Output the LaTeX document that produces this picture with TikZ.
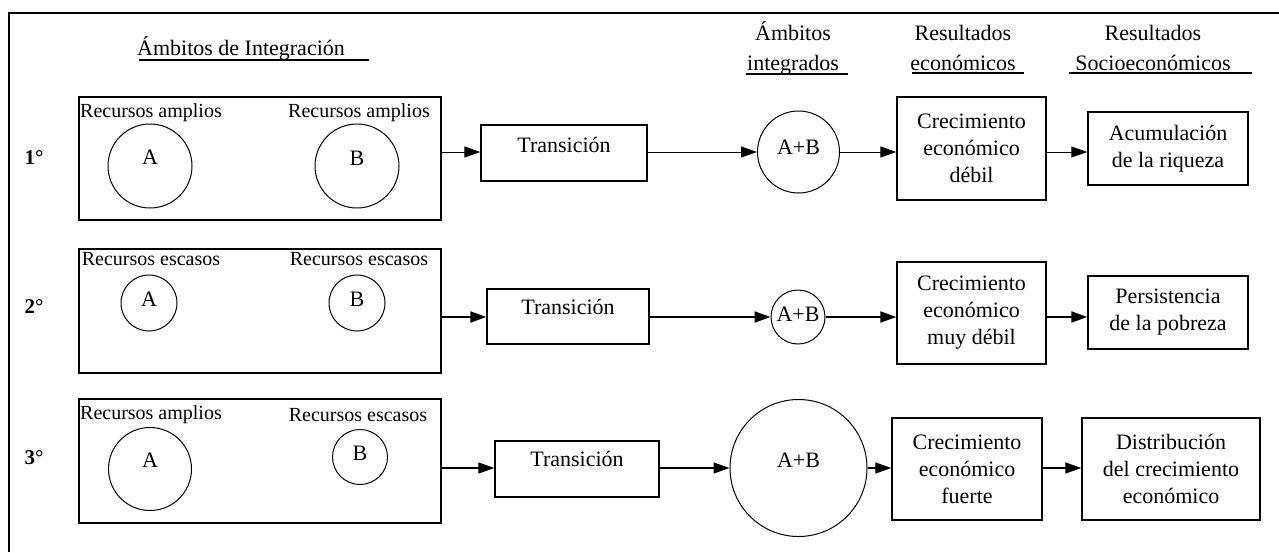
\documentclass[tikz,border=0pt]{standalone}
\usepackage{fontspec}
\setmainfont{Liberation Serif}
\usepackage{tikz}
\usetikzlibrary{arrows.meta}
\tikzset{
  frame/.style={draw=black, line width=1.6pt},
  box/.style={draw=black, line width=1.3pt, inner sep=0pt, align=center,
    font=\fontsize{22}{27}\selectfont},
  ring/.style={draw=black, circle, line width=1pt, inner sep=0pt},
  lbl/.style={inner sep=0pt, align=center, font=\fontsize{22}{27}\selectfont},
  res/.style={inner sep=0pt, font=\fontsize{20}{24}\selectfont},
  head/.style={inner sep=0pt, align=center, font=\fontsize{22}{30}\selectfont},
  num/.style={inner sep=0pt, font=\fontsize{21}{24}\selectfont\bfseries},
  uline/.style={draw=black, line width=1.2pt},
  arr/.style={draw=black, line width=1pt, -{Triangle[length=16pt,width=11pt]}},
  harr/.style={arr, line width=2pt}
}
\begin{document}
\begin{tikzpicture}[x=1pt, y=-1pt]
  \useasboundingbox (0,0) rectangle (1279,552);
  % open frame round the whole chart
  \draw[frame] (9,552) -- (9,13) -- (1279,13);

  % column headings
  \node[head] (hamb) at (241,48) {Ámbitos de Integración};
  \node[head] (hint) at (793,48) {Ámbitos\\integrados};
  \node[head] (heco) at (963,48) {Resultados\\económicos};
  \node[head] (hsoc) at (1153,48) {Resultados\\Socioeconómicos};
  \draw[uline] (139,60) -- (369,60);
  \draw[uline] (746,74) -- (848,74);
  \draw[uline] (912,73) -- (1024,73);
  \draw[uline] (1069,73) -- (1252,73);

  % 1st case
  \node[num] (n1) at (34,158) {1°};
  \node[box, minimum width=362pt, minimum height=123pt] (g1) at (260,158.5) {};
  \node[res] (ra1) at (151,113) {Recursos amplios};
  \node[res] (rb1) at (359,113) {Recursos amplios};
  \node[ring, minimum size=84pt, label={[lbl,yshift=8.5pt]center:A}] (a1) at (150,166) {};
  \node[ring, minimum size=84pt, label={[lbl,yshift=7.5pt]center:B}] (b1) at (357,166) {};
  \node[box, minimum width=166pt, minimum height=56pt,
    label={[lbl,yshift=8pt]center:Transición}] (t1) at (564,153) {};
  \node[ring, minimum size=82pt, label={[lbl,yshift=5pt]center:A+B}] (s1) at (798.5,152) {};
  \node[box, minimum width=149pt, minimum height=103pt] (e1) at (971.5,148.5)
    {Crecimiento\\económico\\débil};
  \node[box, minimum width=160pt, minimum height=73pt] (r1) at (1168,148.5)
    {Acumulación\\de la riqueza};
  \draw[arr] (g1.east |- s1) -- (t1.west |- s1);
  \draw[arr] (t1.east |- s1) -- (s1.west);
  \draw[arr] (s1.east) -- (s1.east -| e1.west);
  \draw[arr] (e1.east |- s1) -- (r1.west |- s1);

  % 2nd case
  \node[num] (n2) at (34,307) {2°};
  \node[box, minimum width=362pt, minimum height=124pt] (g2) at (260,311) {};
  \node[res] (ra2) at (151,259) {Recursos escasos};
  \node[res] (rb2) at (359,259) {Recursos escasos};
  \node[ring, minimum size=56pt, label={[lbl,yshift=4pt]center:A}] (a2) at (149,303) {};
  \node[ring, minimum size=56pt, label={[lbl,yshift=4pt]center:B}] (b2) at (357,303) {};
  \node[box, minimum width=162pt, minimum height=55pt,
    label={[lbl,yshift=9.5pt]center:Transición}] (t2) at (568,316.5) {};
  \node[ring, minimum size=54pt, label={[lbl,yshift=3pt]center:A+B}] (s2) at (798,317) {};
  \node[box, minimum width=149pt, minimum height=102pt] (e2) at (971.5,313)
    {Crecimiento\\económico\\muy débil};
  \node[box, minimum width=160pt, minimum height=73pt] (p2) at (1168,312.5)
    {Persistencia\\de la pobreza};
  \draw[harr] (g2.east |- s2) -- (t2.west |- s2);
  \draw[harr] (t2.east |- s2) -- (s2.west);
  \draw[harr] (s2.east) -- (s2.east -| e2.west);
  \draw[harr] (e2.east |- s2) -- (p2.west |- s2);

  % 3rd case
  \node[num] (n3) at (34,458) {3°};
  \node[box, minimum width=362pt, minimum height=124pt] (g3) at (260,461) {};
  \node[res] (ra3) at (151,415) {Recursos amplios};
  \node[res] (rb3) at (358,415) {Recursos escasos};
  \node[ring, minimum size=83pt, label={[lbl,yshift=9pt]center:A}] (a3) at (150,469) {};
  \node[ring, minimum size=55pt, label={[lbl,yshift=4pt]center:B}] (b3) at (360,457) {};
  \node[box, minimum width=164pt, minimum height=56pt,
    label={[lbl,yshift=10pt]center:Transición}] (t3) at (577,469) {};
  \node[ring, minimum size=137pt, label={[lbl,yshift=7.5pt]center:A+B}] (s3) at (798.5,468) {};
  \node[box, minimum width=150pt, minimum height=102pt] (e3) at (967,469)
    {Crecimiento\\económico\\fuerte};
  \node[box, minimum width=178pt, minimum height=102pt] (d3) at (1171,469)
    {Distribución\\del crecimiento\\económico};
  \draw[arr, line width=1.2pt] (g3.east |- s3) -- (t3.west |- s3);
  \draw[arr, line width=1.2pt] (t3.east |- s3) -- (s3.west);
  \draw[arr, line width=1.2pt] (s3.east) -- (s3.east -| e3.west);
  \draw[arr, line width=1.2pt] (e3.east |- s3) -- (d3.west |- s3);
\end{tikzpicture}
\end{document}
